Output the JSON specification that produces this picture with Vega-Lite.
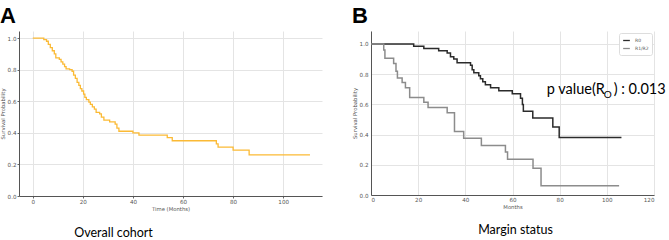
{
  "$schema": "https://vega.github.io/schema/vega-lite/v6.json",
  "padding": {"top": 5, "left": 0, "right": 0, "bottom": 0},
  "background": "white",
  "spacing": 30,
  "resolve": {"scale": {"color": "independent"}, "legend": {"color": "independent"}},
  "datasets": {
    "overall": [
      {"month": 0, "survival": 1.0},
      {"month": 4.4, "survival": 0.99},
      {"month": 5.5, "survival": 0.98},
      {"month": 6.2, "survival": 0.96},
      {"month": 7.0, "survival": 0.94},
      {"month": 7.8, "survival": 0.92},
      {"month": 8.6, "survival": 0.9},
      {"month": 9.2, "survival": 0.875},
      {"month": 10.6, "survival": 0.865},
      {"month": 11.3, "survival": 0.85},
      {"month": 12.0, "survival": 0.835},
      {"month": 12.7, "survival": 0.82},
      {"month": 13.3, "survival": 0.805},
      {"month": 14.7, "survival": 0.8},
      {"month": 15.7, "survival": 0.79},
      {"month": 16.3, "survival": 0.765},
      {"month": 17.0, "survival": 0.745},
      {"month": 17.7, "survival": 0.72},
      {"month": 18.4, "survival": 0.7},
      {"month": 19.0, "survival": 0.68},
      {"month": 19.6, "survival": 0.665},
      {"month": 20.3, "survival": 0.645},
      {"month": 20.8, "survival": 0.625},
      {"month": 21.4, "survival": 0.61},
      {"month": 22.4, "survival": 0.595},
      {"month": 23.0, "survival": 0.58},
      {"month": 23.8, "survival": 0.565},
      {"month": 24.6, "survival": 0.55},
      {"month": 25.3, "survival": 0.53},
      {"month": 26.7, "survival": 0.52},
      {"month": 27.4, "survival": 0.5},
      {"month": 28.4, "survival": 0.48},
      {"month": 30.7, "survival": 0.47},
      {"month": 32.9, "survival": 0.455},
      {"month": 33.6, "survival": 0.43},
      {"month": 34.4, "survival": 0.41},
      {"month": 40.0, "survival": 0.4},
      {"month": 42.4, "survival": 0.385},
      {"month": 53.7, "survival": 0.37},
      {"month": 55.7, "survival": 0.35},
      {"month": 73.3, "survival": 0.33},
      {"month": 74.0, "survival": 0.31},
      {"month": 80.0, "survival": 0.29},
      {"month": 86.4, "survival": 0.26},
      {"month": 110.7, "survival": 0.26}
    ],
    "margin": [
      {"group": "R0", "month": 0, "survival": 1.0},
      {"group": "R0", "month": 18.1, "survival": 0.985},
      {"group": "R0", "month": 22.4, "survival": 0.97},
      {"group": "R0", "month": 28.7, "survival": 0.955},
      {"group": "R0", "month": 32.3, "survival": 0.94},
      {"group": "R0", "month": 33.7, "survival": 0.915},
      {"group": "R0", "month": 35.1, "survival": 0.9},
      {"group": "R0", "month": 36.5, "survival": 0.875},
      {"group": "R0", "month": 42.2, "survival": 0.86},
      {"group": "R0", "month": 42.9, "survival": 0.83},
      {"group": "R0", "month": 43.6, "survival": 0.81},
      {"group": "R0", "month": 45.7, "survival": 0.79},
      {"group": "R0", "month": 46.4, "survival": 0.77},
      {"group": "R0", "month": 47.4, "survival": 0.75},
      {"group": "R0", "month": 48.5, "survival": 0.73},
      {"group": "R0", "month": 50.7, "survival": 0.71},
      {"group": "R0", "month": 54.2, "survival": 0.69},
      {"group": "R0", "month": 59.9, "survival": 0.67},
      {"group": "R0", "month": 63.4, "survival": 0.64},
      {"group": "R0", "month": 64.2, "survival": 0.6},
      {"group": "R0", "month": 64.6, "survival": 0.555},
      {"group": "R0", "month": 68.6, "survival": 0.51},
      {"group": "R0", "month": 77.1, "survival": 0.45},
      {"group": "R0", "month": 79.8, "survival": 0.38},
      {"group": "R0", "month": 106.2, "survival": 0.38},
      {"group": "R1/R2", "month": 0, "survival": 1.0},
      {"group": "R1/R2", "month": 5.4, "survival": 0.96},
      {"group": "R1/R2", "month": 5.9, "survival": 0.905},
      {"group": "R1/R2", "month": 9.6, "survival": 0.87},
      {"group": "R1/R2", "month": 10.6, "survival": 0.82},
      {"group": "R1/R2", "month": 11.2, "survival": 0.775},
      {"group": "R1/R2", "month": 13.2, "survival": 0.745},
      {"group": "R1/R2", "month": 14.6, "survival": 0.71},
      {"group": "R1/R2", "month": 16.4, "survival": 0.645},
      {"group": "R1/R2", "month": 22.4, "survival": 0.615},
      {"group": "R1/R2", "month": 24.2, "survival": 0.58},
      {"group": "R1/R2", "month": 32.3, "survival": 0.545},
      {"group": "R1/R2", "month": 35.4, "survival": 0.42},
      {"group": "R1/R2", "month": 39.3, "survival": 0.375},
      {"group": "R1/R2", "month": 46.8, "survival": 0.327},
      {"group": "R1/R2", "month": 57.0, "survival": 0.285},
      {"group": "R1/R2", "month": 57.9, "survival": 0.237},
      {"group": "R1/R2", "month": 68.7, "survival": 0.177},
      {"group": "R1/R2", "month": 72.1, "survival": 0.062},
      {"group": "R1/R2", "month": 105.2, "survival": 0.062}
    ],
    "pvalue": [
      {"month": 74.5, "survival": 0.667}
    ]
  },
  "config": {
    "view": {"stroke": null},
    "axis": {
      "domainColor": "#555555",
      "domainWidth": 1,
      "tickColor": "#666666",
      "tickSize": 2,
      "labelFont": "DejaVu Sans",
      "labelFontSize": 5.6,
      "labelColor": "#555555",
      "labelPadding": 1,
      "labelOverlap": false,
      "titleFont": "DejaVu Sans",
      "titleFontSize": 5.3,
      "titleFontWeight": "normal",
      "titleColor": "#555555",
      "titlePadding": 2,
      "grid": true,
      "gridColor": "#e4e4e4",
      "gridWidth": 1
    },
    "title": {"color": "black"}
  },
  "hconcat": [
    {
      "title": {
        "text": "A",
        "anchor": "start",
        "font": "Liberation Sans",
        "fontSize": 22,
        "fontWeight": "bold",
        "offset": 3
      },
      "vconcat": [
        {
          "title": {
            "text": "Overall cohort",
            "orient": "bottom",
            "anchor": "middle",
            "frame": "group",
            "dx": -57,
            "offset": 15,
            "font": "Lato",
            "fontSize": 12.5,
            "fontWeight": "normal"
          },
          "width": 303,
          "height": 165,
          "data": {"name": "overall"},
          "mark": {
            "type": "line",
            "interpolate": "step-after",
            "color": "#FBBA35",
            "strokeWidth": 1.3
          },
          "encoding": {
            "x": {
              "field": "month",
              "type": "quantitative",
              "scale": {"domain": [-5.5, 115.5], "nice": false, "zero": false},
              "axis": {"values": [0, 20, 40, 60, 80, 100], "title": "Time (Months)", "format": "d"}
            },
            "y": {
              "field": "survival",
              "type": "quantitative",
              "scale": {"domain": [0, 1.045], "nice": false},
              "axis": {"values": [0, 0.2, 0.4, 0.6, 0.8, 1.0], "title": "Survival Probability", "format": ".1f"}
            }
          }
        }
      ]
    },
    {
      "title": {
        "text": "B",
        "anchor": "start",
        "font": "Liberation Sans",
        "fontSize": 22,
        "fontWeight": "bold",
        "offset": 3
      },
      "resolve": {"scale": {"color": "independent"}, "legend": {"color": "independent"}},
      "vconcat": [
        {
          "title": {
            "text": "Margin status",
            "orient": "bottom",
            "anchor": "middle",
            "frame": "group",
            "dx": 3,
            "offset": 14,
            "font": "Lato",
            "fontSize": 12.5,
            "fontWeight": "normal"
          },
          "width": 283,
          "height": 164,
          "encoding": {
            "x": {
              "field": "month",
              "type": "quantitative",
              "scale": {"domain": [0, 120], "nice": false},
              "axis": {"values": [0, 20, 40, 60, 80, 100, 120], "title": "Months", "format": "d", "tickSize": 0, "labelPadding": 2}
            },
            "y": {
              "field": "survival",
              "type": "quantitative",
              "scale": {"domain": [0, 1.086], "nice": false},
              "axis": {"values": [0, 0.2, 0.4, 0.6, 0.8, 1.0], "title": "Survival Probability", "format": ".1f", "tickSize": 0, "labelPadding": 3}
            }
          },
          "layer": [
            {
              "data": {"name": "margin"},
              "mark": {"type": "line", "interpolate": "step-after", "strokeWidth": 1.5},
              "encoding": {
                "color": {
                  "field": "group",
                  "type": "nominal",
                  "scale": {"domain": ["R0", "R1/R2"], "range": ["#2b2b2b", "#8c8c8c"]},
                  "legend": {
                    "title": null,
                    "orient": "top-right",
                    "offset": 2,
                    "symbolType": "stroke",
                    "symbolSize": 45,
                    "symbolStrokeWidth": 1.3,
                    "labelFont": "DejaVu Sans",
                    "labelFontSize": 4.5,
                    "labelColor": "#555555",
                    "rowPadding": 0,
                    "padding": 3,
                    "fillColor": "white",
                    "strokeColor": "#dddddd",
                    "cornerRadius": 2
                  }
                }
              }
            },
            {
              "data": {"name": "pvalue"},
              "mark": {"type": "text", "align": "left", "baseline": "alphabetic", "font": "Lato", "fontSize": 14.5, "color": "black"},
              "encoding": {"text": {"value": "p value(R"}}
            },
            {
              "data": {"name": "pvalue"},
              "mark": {"type": "text", "align": "left", "baseline": "alphabetic", "font": "Lato", "fontSize": 10, "color": "black", "dx": 57, "dy": 4},
              "encoding": {"text": {"value": "O"}}
            },
            {
              "data": {"name": "pvalue"},
              "mark": {"type": "text", "align": "left", "baseline": "alphabetic", "font": "Lato", "fontSize": 14.5, "color": "black", "dx": 67},
              "encoding": {"text": {"value": ") : 0.013"}}
            }
          ]
        }
      ]
    }
  ]
}
